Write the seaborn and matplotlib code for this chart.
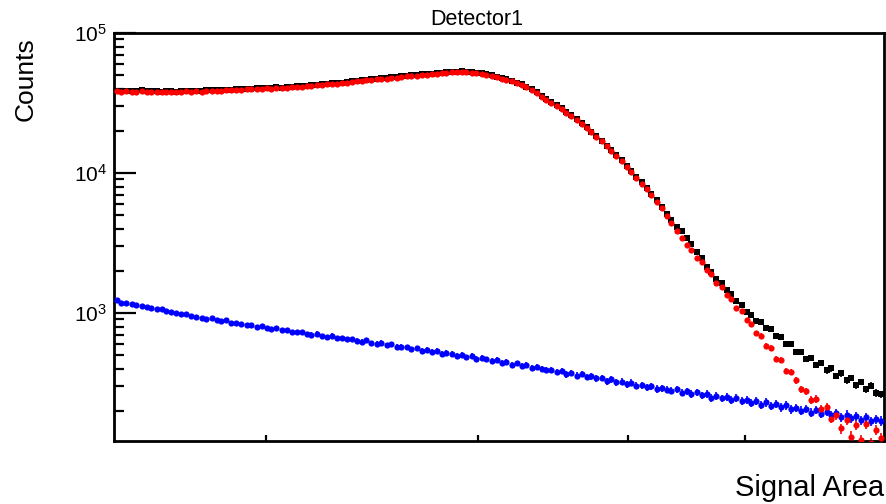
import numpy as np
import pandas as pd
import matplotlib
matplotlib.use("Agg")
import matplotlib.pyplot as plt
import matplotlib.ticker as mticker
import seaborn as sns

# Histogram contents (154 bins, log-spaced in x)
x_lo, x_hi, n_bins = 1.4956, 6.523, 154

black_counts = [
    38800, 38500, 38700, 38400, 38600, 38900, 38500, 38300, 38400, 38100, 38300, 38600, 38200, 38400,
    38700, 38500, 38800, 38600, 39000, 38900, 39200, 39100, 39400, 39300, 39700, 39600, 39900,
    40000, 40300, 40200, 40600, 40500, 40900, 40800, 41200, 41300, 41600, 41700,
    42000, 42300, 42700, 42900, 43300, 43600, 43900, 44300, 44600, 45100,
    45500, 45900, 46300, 46600, 47000, 47400, 47600, 48100, 48400, 48900,
    49300, 49800, 50100, 50600, 50900, 51300, 51700, 52000, 52400, 52700,
    53000, 53200, 52900, 52600, 52100, 51400,
    50600, 49800, 48800, 47700, 46600, 45500, 44300,
    42900, 41400, 39800, 37600, 35500, 33600,
    32200, 30500, 28900, 27400, 25800, 24300, 22800,
    21200, 19700, 18300, 17000, 15700, 14500,
    13400, 12300, 11200, 10300, 9420, 8600, 7850,
    7050, 6380, 5740, 5130, 4590, 4120,
    3870, 3450, 3110, 2740, 2470, 2140, 1970, 1760, 1630, 1450, 1370, 1210, 1150, 1020, 975,
    880, 866, 781, 770, 689, 679, 598, 596, 527, 530, 466, 478, 425, 440, 389, 402, 355, 371,
    330, 345, 306, 322, 285, 302, 268, 262,
]

red_counts = [
    38400, 38100, 38300, 37900, 38200, 38600, 38000, 37800, 38100, 37700, 37900, 38200, 37800, 38000,
    38300, 38100, 38400, 38200, 38600, 38500, 38800, 38700, 39000, 38900, 39300, 39200, 39500,
    39600, 39900, 39800, 40200, 40100, 40500, 40400, 40800, 40900, 41200, 41300,
    41600, 41900, 42300, 42500, 42900, 43200, 43500, 43900, 44200, 44700,
    45100, 45500, 45900, 46200, 46600, 47000, 47200, 47700, 48000, 48500,
    48900, 49400, 49700, 50200, 50500, 50900, 51300, 51600, 52000, 52300,
    52600, 52800, 52500, 52200, 51700, 51000,
    50200, 49400, 48400, 47300, 46200, 45100, 43900,
    42500, 41000, 39400, 37200, 35100, 33200,
    31800, 30100, 28500, 27000, 25400, 23900, 22400,
    21000, 19500, 18100, 16800, 15500, 14300,
    13200, 12100, 11000, 10100, 9230, 8410, 7660,
    6920, 6240, 5580, 4950, 4370, 3850,
    3450, 3060, 2830, 2480, 2310, 2030, 1890, 1640, 1540, 1340, 1260, 1080, 1040, 885, 840,
    720, 690, 585, 565, 470, 462, 385, 378, 330, 285, 275, 240, 244, 205, 212, 176, 186, 150,
    171, 131, 158, 124, 162, 118, 147, 128,
]

blue_counts = [
    1230, 1188, 1171, 1163, 1142, 1118, 1101, 1089,
    1060, 1071, 1032, 1019, 1008, 982, 990, 951, 943,
    928, 907, 918, 885, 874, 889, 852, 848, 833, 819,
    822, 797, 806, 781, 769, 778, 751, 760, 733, 729,
    726, 709, 702, 711, 684, 676, 689, 658, 664, 648,
    651, 633, 624, 638, 611, 604, 615, 588, 597, 572,
    576, 569, 551, 560, 538, 547, 528, 535, 512, 518,
    510, 497, 503, 482, 494, 471, 478, 466, 452, 461,
    443, 449, 428, 436, 419, 424, 405, 414, 396, 393,
    390, 378, 384, 365, 375, 357, 369, 349, 352, 341,
    345, 326, 337, 321, 323, 311, 318, 303, 306, 295,
    300, 287, 291, 283, 279, 286, 270, 277, 265, 271,
    258, 264, 249, 257, 246, 251, 238, 247, 235, 240,
    229, 236, 222, 230, 217, 224, 212, 219, 205, 211,
    201, 207, 194, 203, 191, 197, 186, 193, 181, 188,
    177, 184, 172, 180, 168, 175, 170,
]

x_ticks = [2, 3, 4, 5]

# bin centres
edges = np.logspace(np.log10(x_lo), np.log10(x_hi), n_bins + 1)
centres = np.sqrt(edges[:-1] * edges[1:])

sns.set_style("ticks")
plt.rcParams["font.family"] = ["Liberation Sans", "DejaVu Sans"]
plt.rcParams["mathtext.fontset"] = "custom"
plt.rcParams["mathtext.rm"] = "Liberation Sans"
plt.rcParams["mathtext.it"] = "Liberation Sans:italic"
for key in ["text.color", "axes.labelcolor", "xtick.color", "ytick.color"]:
    plt.rcParams[key] = "black"

fig = plt.figure(figsize=(8.87, 5.04), dpi=100)
ax = fig.add_axes([114 / 887, 1 - 441 / 504, 770 / 887, 408 / 504])

series = [
    ("black", black_counts, "s", 18),
    ("blue", blue_counts, "o", 20),
    ("red", red_counts, "o", 20),
]
for colour, counts, marker, size in series:
    df = pd.DataFrame({"x": centres, "counts": counts})
    ax.errorbar(df["x"], df["counts"], yerr=np.sqrt(df["counts"]), fmt="none",
                ecolor=colour, elinewidth=1.2, capsize=0, zorder=2)
    sns.scatterplot(data=df, x="x", y="counts", color=colour, marker=marker,
                    s=size, linewidth=0, ax=ax, zorder=3)

ax.set_xscale("log")
ax.set_yscale("log")
ax.set_xlim(x_lo, x_hi)
ax.set_ylim(10 ** (5 - 408 / 140), 1e5)

ax.xaxis.set_major_locator(mticker.FixedLocator(x_ticks))
ax.xaxis.set_major_formatter(mticker.NullFormatter())
ax.xaxis.set_minor_locator(mticker.NullLocator())
ax.yaxis.set_major_locator(mticker.LogLocator(base=10))
ax.yaxis.set_minor_locator(mticker.LogLocator(base=10, subs=np.arange(2, 10)))
ax.yaxis.set_minor_formatter(mticker.NullFormatter())

ax.tick_params(axis="y", which="major", direction="in", length=16, width=1.6,
               labelsize=15, pad=5)
ax.tick_params(axis="y", which="minor", direction="in", length=7, width=1.6)
ax.tick_params(axis="x", which="major", direction="in", length=4.5, width=1.6)
ax.tick_params(top=False, right=False)

for sp in ax.spines.values():
    sp.set_linewidth(2)
    sp.set_color("black")

ax.set_title("Detector1", fontsize=15.5, x=(477 - 114) / 770, pad=6)
ax.set_ylabel("Counts", fontsize=19, loc="top")
ax.yaxis.set_label_coords(-0.099, 0.99)
ax.set_xlabel("Signal Area", fontsize=21, loc="right")
ax.xaxis.set_label_coords(1.0, -0.08)

fig.savefig("out.png", dpi=100)
